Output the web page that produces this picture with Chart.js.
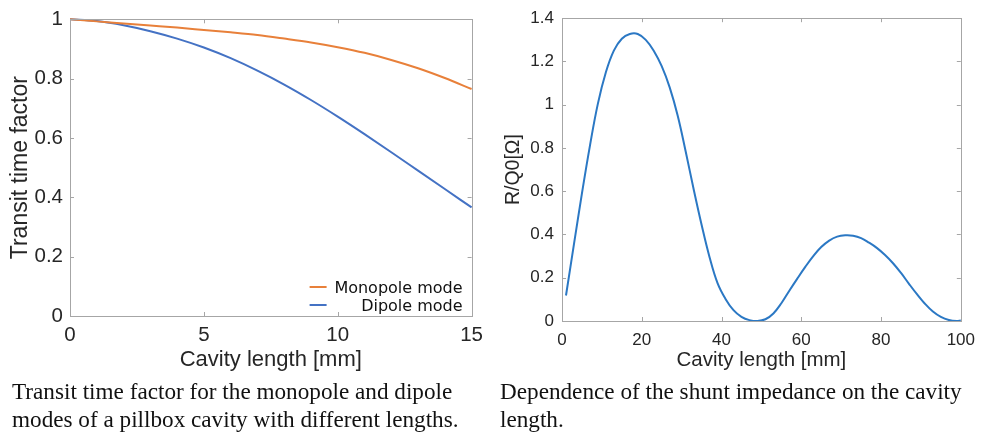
<!DOCTYPE html>
<html>
<head>
<meta charset="utf-8">
<script src="https://cdn.jsdelivr.net/npm/chart.js@4.4.1/dist/chart.umd.min.js"></script>
<style>
html, body { margin: 0; padding: 0; background: #fff; }
#wrap { position: relative; width: 984px; height: 441px; overflow: hidden; }
canvas { position: absolute; top: 0; }
#leftChart { left: 0; }
#rightChart { left: 490px; }
.caption {
    position: absolute;
    top: 377px;
    font-family: "Liberation Serif", "Times New Roman", serif;
    font-size: 23.2px;
    line-height: 28px;
    color: #111;
    white-space: nowrap;
}
</style>
</head>
<body>
<div id="wrap">
    <canvas id="leftChart" width="490" height="380"></canvas>
    <canvas id="rightChart" width="494" height="380"></canvas>
    <div class="caption" style="left:12px">Transit time factor for the monopole and dipole<br>modes of a pillbox cavity with different lengths.</div>
    <div class="caption" style="left:500px">Dependence of the shunt impedance on the cavity<br>length.</div>
</div>
<script>
// Left panel: transit time factor vs cavity length
const lengthMm = [0, 1, 2, 3, 4, 5, 6, 7, 8, 9, 10, 11, 12, 13, 14, 15];
const monopole = [1.000, 0.993, 0.986, 0.979, 0.972, 0.964, 0.956, 0.947, 0.935, 0.922, 0.906, 0.887, 0.863, 0.835, 0.802, 0.765];
const dipole = [1.000, 0.994, 0.980, 0.960, 0.935, 0.905, 0.869, 0.827, 0.780, 0.728, 0.672, 0.613, 0.552, 0.490, 0.428, 0.366];
const leftXTicks = [0, 5, 10, 15];
const leftYTicks = [0, 0.2, 0.4, 0.6, 0.8, 1];

// Right panel: R/Q0 vs cavity length
const cavityLength = [1, 3, 5, 7, 9, 11, 13, 15, 17, 19, 21, 23, 25, 27, 29, 31, 33, 35, 37, 39,
    41, 43, 45, 47, 49, 51, 53, 55, 57, 59, 61, 63, 65, 67, 69, 71, 73, 75, 77, 79,
    81, 83, 85, 87, 89, 91, 93, 95, 97, 99, 100];
const rOverQ = [0.118, 0.355, 0.590, 0.810, 1.005, 1.150, 1.250, 1.305, 1.327, 1.327, 1.300, 1.250, 1.178, 1.080, 0.950, 0.785, 0.610, 0.445, 0.295, 0.175,
    0.102, 0.050, 0.019, 0.004, 0.000, 0.008, 0.035, 0.082, 0.140, 0.196, 0.250, 0.300, 0.342, 0.372, 0.390, 0.396, 0.394, 0.383, 0.362, 0.337,
    0.305, 0.267, 0.222, 0.172, 0.124, 0.080, 0.044, 0.019, 0.005, 0.000, 0.002];
const rightXTicks = [0, 20, 40, 60, 80, 100];
const rightYTicks = [0, 0.2, 0.4, 0.6, 0.8, 1, 1.2, 1.4];

const textColor = '#262626';
const boxColor = '#a6a6a6';
const sansFont = '"Liberation Sans", Arial, Helvetica, sans-serif';

// MATLAB style box with inward tick marks on all four sides
const boxPlugin = {
    id: 'box',
    afterDatasetsDraw: function(chart) {
        const ctx = chart.ctx;
        const a = chart.chartArea;
        const xs = chart.scales.x;
        const ys = chart.scales.y;
        ctx.save();
        ctx.strokeStyle = boxColor;
        ctx.lineWidth = 1;
        ctx.strokeRect(Math.round(a.left) + 0.5, Math.round(a.top) + 0.5,
            Math.round(a.right - a.left), Math.round(a.bottom - a.top));
        ctx.beginPath();
        xs.ticks.forEach(function(t) {
            const px = Math.round(xs.getPixelForValue(t.value)) + 0.5;
            ctx.moveTo(px, a.bottom); ctx.lineTo(px, a.bottom - 4);
            ctx.moveTo(px, a.top); ctx.lineTo(px, a.top + 4);
        });
        ys.ticks.forEach(function(t) {
            const py = Math.round(ys.getPixelForValue(t.value)) + 0.5;
            ctx.moveTo(a.left, py); ctx.lineTo(a.left + 4, py);
            ctx.moveTo(a.right, py); ctx.lineTo(a.right - 4, py);
        });
        ctx.stroke();
        ctx.restore();
    }
};

// Legend drawn inside the plot, bottom right, text right-aligned
const insideLegend = {
    id: 'insideLegend',
    afterDraw: function(chart) {
        const ctx = chart.ctx;
        const a = chart.chartArea;
        ctx.save();
        ctx.font = '16px "DejaVu Sans", sans-serif';
        ctx.textAlign = 'right';
        ctx.textBaseline = 'alphabetic';
        chart.data.datasets.forEach(function(ds, i) {
            const y = a.bottom - 23 + i * 18;
            ctx.fillStyle = '#111';
            ctx.fillText(ds.label, a.right - 9, y);
            ctx.strokeStyle = ds.borderColor;
            ctx.lineWidth = 2;
            ctx.beginPath();
            ctx.moveTo(a.right - 162, y - 6);
            ctx.lineTo(a.right - 145, y - 6);
            ctx.stroke();
        });
        ctx.restore();
    }
};

function axis(min, max, tickValues, opts) {
    return {
        type: 'linear',
        min: min,
        max: max,
        afterBuildTicks: function(scale) {
            scale.ticks = tickValues.map(function(v) { return { value: v }; });
        },
        afterFit: function(scale) {
            if (opts.width) scale.width = opts.width;
            if (opts.height) scale.height = opts.height;
        },
        grid: { display: false, drawTicks: false },
        border: { display: false },
        ticks: {
            color: textColor,
            font: { family: sansFont, size: opts.tickSize },
            padding: opts.tickPad,
            autoSkip: false,
            maxRotation: 0,
            callback: function(v) { return String(v); }
        },
        title: {
            display: true,
            text: opts.title,
            color: textColor,
            font: { family: sansFont, size: opts.titleSize },
            padding: opts.titlePad
        }
    };
}

new Chart(document.getElementById('leftChart').getContext('2d'), {
    type: 'line',
    data: {
        datasets: [{
            label: 'Monopole mode',
            data: lengthMm.map(function(x, i) { return { x: x, y: monopole[i] }; }),
            borderColor: '#e8803a',
            borderWidth: 2,
            pointRadius: 0,
            cubicInterpolationMode: 'monotone',
            clip: false
        }, {
            label: 'Dipole mode',
            data: lengthMm.map(function(x, i) { return { x: x, y: dipole[i] }; }),
            borderColor: '#4472c4',
            borderWidth: 2,
            pointRadius: 0,
            cubicInterpolationMode: 'monotone',
            clip: false
        }]
    },
    options: {
        responsive: false,
        animation: false,
        devicePixelRatio: 1,
        layout: { padding: { top: 13, right: 16, left: 0, bottom: 0 } },
        plugins: { legend: { display: false }, tooltip: { enabled: false } },
        scales: {
            x: axis(0, 15, leftXTicks, { height: 64, tickSize: 20.5, tickPad: 7, title: 'Cavity length [mm]', titleSize: 22, titlePad: { top: 0, bottom: 7 } }),
            y: axis(0, 1, leftYTicks, { width: 70, tickSize: 20.5, tickPad: 7, title: 'Transit time factor', titleSize: 23, titlePad: { top: 6.5, bottom: 0 } })
        }
    },
    plugins: [boxPlugin, insideLegend]
});

new Chart(document.getElementById('rightChart').getContext('2d'), {
    type: 'line',
    data: {
        datasets: [{
            label: 'R/Q0',
            data: cavityLength.map(function(x, i) { return { x: x, y: rOverQ[i] }; }),
            borderColor: '#2b78c4',
            borderWidth: 2,
            pointRadius: 0,
            tension: 0.4,
            clip: false
        }]
    },
    options: {
        responsive: false,
        animation: false,
        devicePixelRatio: 1,
        layout: { padding: { top: 13, right: 19, left: 0, bottom: 0 } },
        plugins: { legend: { display: false }, tooltip: { enabled: false } },
        scales: {
            x: axis(0, 100, rightXTicks, { height: 59, tickSize: 17, tickPad: 9, title: 'Cavity length [mm]', titleSize: 20.5, titlePad: { top: 0, bottom: 7 } }),
            y: axis(0, 1.4, rightYTicks, { width: 72, tickSize: 17, tickPad: 8, title: 'R/Q0[\u03A9]', titleSize: 19.5, titlePad: { top: 12, bottom: 0 } })
        }
    },
    plugins: [boxPlugin]
});
</script>
</body>
</html>
